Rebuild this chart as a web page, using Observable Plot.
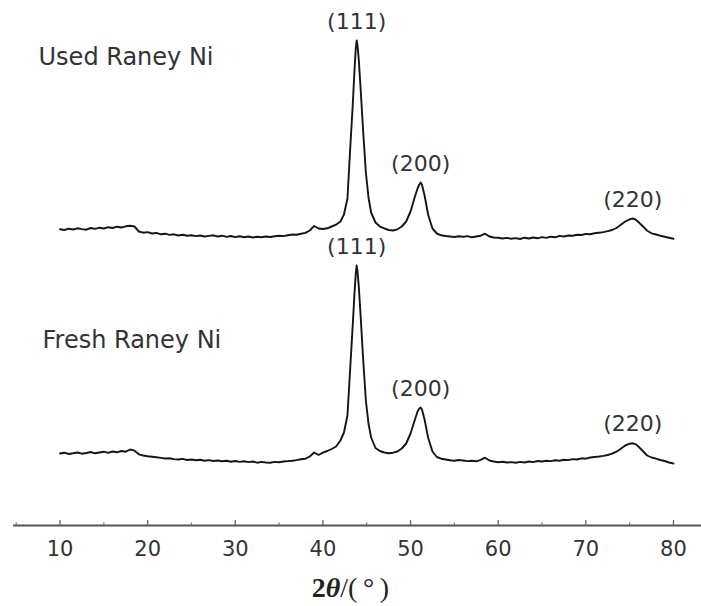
<!DOCTYPE html>
<html>
<head>
<meta charset="utf-8">
<script src="https://cdn.jsdelivr.net/npm/d3@7"></script>
<script src="https://cdn.jsdelivr.net/npm/@observablehq/plot@0.6"></script>
<style>
  body { margin: 0; background: #fff; }
  #chart { width: 701px; height: 570px; }
  #xlabel { width: 701px; height: 36px; line-height: 36px; text-align: center;
            font-family: "Liberation Serif", "Times New Roman", serif; font-size: 28px; color: #222; }
</style>
</head>
<body>
<div id="chart"></div>
<div id="xlabel"><b>2<i>θ</i></b>/(&thinsp;°&thinsp;)</div>
<script>
// 2θ sampling positions (degrees)
const twoTheta = [
  10, 10.5, 11, 11.5, 12, 12.5, 13, 13.5, 14, 14.5,
  15, 15.5, 16, 16.5, 17, 17.5, 18, 18.5, 19, 19.5,
  20, 20.5, 21, 21.5, 22, 22.5, 23, 23.5, 24, 24.5,
  25, 25.5, 26, 26.5, 27, 27.5, 28, 28.5, 29, 29.5,
  30, 30.5, 31, 31.5, 32, 32.5, 33, 33.5, 34, 34.5,
  35, 35.5, 36, 36.5, 37, 37.5, 38, 38.5, 39, 39.5,
  40, 40.5, 41, 41.5, 42, 42.4, 42.8, 43.1, 43.4, 43.6,
  43.75, 43.85, 43.95, 44.1, 44.3, 44.6, 44.9, 45.2, 45.5, 46,
  46.5, 47, 47.5, 48, 48.5, 49, 49.5, 50, 50.5, 50.8,
  51, 51.15, 51.3, 51.6, 52, 52.5, 53, 53.5, 54, 54.5,
  55, 55.5, 56, 56.5, 57, 57.5, 58, 58.5, 59, 59.5,
  60, 60.5, 61, 61.5, 62, 62.5, 63, 63.5, 64, 64.5,
  65, 65.5, 66, 66.5, 67, 67.5, 68, 68.5, 69, 69.5,
  70, 70.5, 71, 71.5, 72, 72.5, 73, 73.5, 74, 74.5,
  75, 75.35, 75.7, 76, 76.5, 77, 77.5, 78, 78.5, 79,
  79.5, 80
];

// Fresh Raney Ni intensity (a.u.)
const freshIntensity = [
  720, 728, 715, 722, 730, 718, 725, 735, 722, 730,
  738, 726, 740, 732, 745, 738, 760, 748, 712, 700,
  692, 688, 682, 676, 670, 672, 664, 660, 666, 655,
  660, 652, 658, 648, 654, 645, 650, 642, 648, 638,
  645, 636, 642, 634, 640, 628, 636, 630, 628, 636,
  632, 640, 644, 648, 654, 662, 668, 690, 730, 705,
  728, 745, 765, 790, 850, 930, 1100, 1550, 2000, 2320,
  2520, 2600, 2540, 2380, 2100, 1650, 1250, 1020, 880, 775,
  745, 730, 722, 728, 740, 770, 820, 920, 1060, 1140,
  1170, 1180, 1160, 1060, 880, 740, 685, 668, 660, 652,
  648, 655, 650, 644, 648, 642, 656, 678, 650, 640,
  632, 638, 630, 634, 628, 636, 630, 640, 634, 645,
  640, 648, 644, 652, 648, 658, 654, 664, 660, 672,
  668, 680, 685, 690, 696, 705, 718, 738, 768, 800,
  818, 822, 812, 790, 745, 700, 680, 668, 655, 645,
  630, 620
];

// Used Raney Ni intensity (a.u.)
const usedIntensity = [
  712, 705, 718, 710, 722, 714, 708, 725, 716, 728,
  720, 733, 725, 738, 730, 742, 748, 740, 690, 678,
  684, 670, 676, 662, 668, 656, 662, 650, 658, 648,
  652, 644, 650, 640, 646, 652, 640, 648, 636, 645,
  634, 642, 632, 640, 630, 638, 632, 640, 635, 642,
  648, 644, 652, 660, 658, 668, 676, 700, 745, 720,
  715, 722, 740, 758, 790, 860, 1020, 1500, 1950, 2300,
  2520, 2600, 2550, 2400, 2120, 1680, 1280, 1030, 880, 780,
  740, 722, 705, 700, 712, 740, 790, 890, 1040, 1120,
  1160, 1180, 1160, 1050, 860, 720, 670, 652, 645, 640,
  635, 642, 638, 644, 632, 640, 648, 668, 640, 630,
  628, 620, 626, 618, 624, 615, 628, 620, 630, 622,
  634, 626, 638, 632, 646, 640, 650, 648, 658, 655,
  666, 662, 672, 678, 684, 694, 705, 725, 758, 790,
  812, 820, 808, 785, 742, 698, 672, 660, 648, 638,
  628, 618
];

const seriesNames = ["Fresh Raney Ni", "Used Raney Ni"];
const peakLabels = ["(111)", "(200)", "(220)"];
const peakTwoTheta = [43.85, 51.15, 75.35];
const majorTicks = [10, 20, 30, 40, 50, 60, 70, 80];
const minorTicks = [5, 15, 25, 35, 45, 55, 65, 75];

// vertical stacking offset of the upper pattern (layout, not data)
const USED_OFFSET = 2250;

const fresh = twoTheta.map((t, i) => ({t, v: freshIntensity[i]}));
const used = twoTheta.map((t, i) => ({t, v: usedIntensity[i] + USED_OFFSET}));

const peakRows = [];
[[freshIntensity, 0], [usedIntensity, USED_OFFSET]].forEach(([arr, off]) => {
  peakLabels.forEach((lab, j) => {
    const idx = twoTheta.indexOf(peakTwoTheta[j]);
    peakRows.push({t: peakTwoTheta[j], v: arr[idx] + off, lab});
  });
});

const nameRows = [
  {t: 8.0, v: 1850, name: seriesNames[0]},
  {t: 7.55, v: 4680, name: seriesNames[1]}
];

const plot = Plot.plot({
  width: 701,
  height: 570,
  marginTop: 0,
  marginBottom: 45,
  marginLeft: 13,
  marginRight: 0,
  x: {domain: [5, 83.2], range: [15.7, 701], label: null},
  y: {domain: [0, 5250], axis: null},
  style: {fontFamily: "DejaVu Sans", background: "white", color: "#333"},
  marks: [
    Plot.ruleY([0], {stroke: "#555", strokeWidth: 1.8}),
    Plot.axisX(majorTicks, {tickSize: 5, dy: -5, tickFormat: () => "", stroke: "#666", strokeWidth: 1.3, label: null}),
    Plot.axisX(minorTicks, {tickSize: 2.5, dy: -2.5, tickFormat: () => "", stroke: "#777", strokeWidth: 1.2, label: null}),
    Plot.axisX(majorTicks, {tickSize: 0, tickPadding: 16, fontSize: 21, fill: "#333", label: null}),
    Plot.line(fresh, {x: "t", y: "v", stroke: "#151515", strokeWidth: 1.9, curve: "linear"}),
    Plot.line(used, {x: "t", y: "v", stroke: "#151515", strokeWidth: 1.9, curve: "linear"}),
    Plot.text(peakRows, {x: "t", y: "v", text: "lab", dy: -19, lineAnchor: "middle", fontSize: 22, fill: "#333"}),
    Plot.text(nameRows, {x: "t", y: "v", text: "name", textAnchor: "start", lineAnchor: "middle", fontSize: 24, fill: "#333"})
  ]
});
document.getElementById("chart").appendChild(plot);
</script>
</body>
</html>
